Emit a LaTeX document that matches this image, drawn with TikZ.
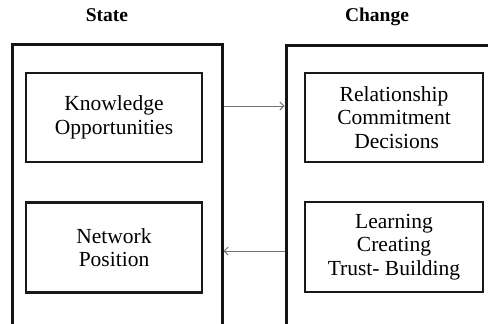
\documentclass[tikz,border=0pt]{standalone}
\usepackage{fontspec}
\setmainfont{Liberation Serif}
\usetikzlibrary{arrows.meta}
\begin{document}
\begin{tikzpicture}[x=1pt,y=-1pt,
  frame/.style={line width=3pt,draw=black!92},
  inbox/.style={draw=black!90,line width=2.4pt,rectangle,align=center,
    font=\fontsize{21.5}{23.5}\selectfont,inner sep=0pt},
  title/.style={font=\fontsize{19.5}{22}\selectfont\bfseries,anchor=base},
  link/.style={draw=black!55,line width=1pt,-{Straight Barb[length=4pt,width=8pt,line width=1pt]}}]
\useasboundingbox (0,0) rectangle (488,324);
\clip (0,0) rectangle (488,324);
% titles
\node[title] (st) at (107,21.5) {State};
\node[title] (ch) at (377,21.5) {Change};
% outer frames (open at the bottom / right)
\coordinate (sfbl) at (12,340);
\coordinate (sftl) at (12,44);
\coordinate (sftr) at (222,44);
\coordinate (sfbr) at (222,340);
\draw[frame] (sfbl) -- (sftl) -- (sftr) -- (sfbr);
\coordinate (cfbl) at (286,340);
\coordinate (cftl) at (286,45);
\coordinate (cftr) at (500,45);
\draw[frame] (cfbl) -- (cftl) -- (cftr);
% inner boxes
\node[inbox,minimum width=176pt,minimum height=89pt] (know) at (114,117.5) {Knowledge\\Opportunities};
\node[inbox,minimum width=176pt,minimum height=90pt] (net) at (114,247.5) {Network\\Position};
\node[inbox,minimum width=178pt,minimum height=89pt] (rel) at (394,117.5) {Relationship\\Commitment\\\ Decisions};
\node[inbox,minimum width=178pt,minimum height=90pt] (learn) at (394,247) {Learning\\Creating\\Trust- Building};
% connectors
\coordinate (a1s) at (223.5,106);
\coordinate (a1e) at (284.5,106);
\coordinate (a2s) at (284.5,251);
\coordinate (a2e) at (223.5,251);
\draw[link] (a1s) -- (a1e);
\draw[link] (a2s) -- (a2e);
\end{tikzpicture}
\end{document}
